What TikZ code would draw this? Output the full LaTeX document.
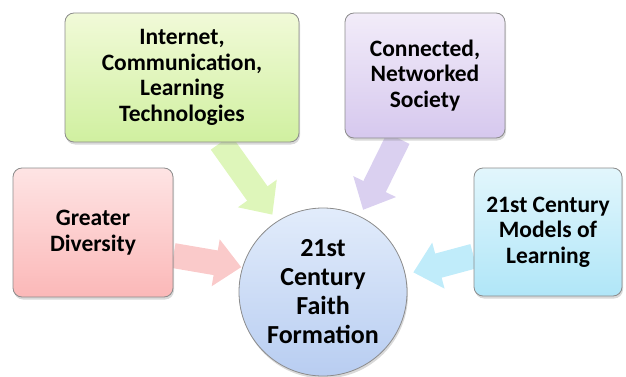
\documentclass[tikz,border=0pt]{standalone}
\usepackage{fontspec}
\setmainfont{Carlito}
\usetikzlibrary{arrows.meta,shadows,backgrounds}

\definecolor{pinktop}{RGB}{254,228,228}
\definecolor{pinkbot}{RGB}{251,184,184}
\definecolor{greentop}{RGB}{241,250,216}
\definecolor{greenbot}{RGB}{208,240,160}
\definecolor{purptop}{RGB}{242,236,249}
\definecolor{purpbot}{RGB}{214,200,238}
\definecolor{cyantop}{RGB}{226,246,252}
\definecolor{cyanbot}{RGB}{176,230,248}
\definecolor{hubtop}{RGB}{226,236,251}
\definecolor{hubbot}{RGB}{184,205,241}
\definecolor{pinkarr}{RGB}{250,202,202}
\definecolor{greenarr}{RGB}{222,246,186}
\definecolor{purparr}{RGB}{218,208,240}
\definecolor{cyanarr}{RGB}{192,236,250}

\begin{document}
\begin{tikzpicture}[x=1pt,y=-1pt,font={\fontsize{23.5}{25.5}\selectfont\bfseries},
  box/.style={draw=black!45,line width=0.8pt,rounded corners=9pt,align=center,inner sep=0pt,
    drop shadow={opacity=0.3,shadow xshift=1pt,shadow yshift=-2.5pt}},
  flow/.style={line width=25pt,-{Triangle[length=26pt,width=46pt]}}]
\useasboundingbox (0,0) rectangle (626,377);

\node[box,minimum width=160pt,minimum height=129pt,top color=pinktop,bottom color=pinkbot]
  (dv) at (93,232.5) {Greater\\Diversity};
\node[box,minimum width=234pt,minimum height=129pt,top color=greentop,bottom color=greenbot]
  (net) at (182,77.5) {Internet,\\Communication,\\Learning\\Technologies};
\node[box,minimum width=160pt,minimum height=125pt,top color=purptop,bottom color=purpbot]
  (con) at (425,75.5) {Connected,\\Networked\\Society};
\node[box,minimum width=148pt,minimum height=128pt,top color=cyantop,bottom color=cyanbot]
  (mod) at (548,232) {21st Century\\Models of\\Learning};
\node[box,circle,minimum size=168pt,top color=hubtop,bottom color=hubbot,
  font={\fontsize{26}{29}\selectfont\bfseries}] (hub) at (323,292) {21st\\Century\\Faith\\Formation};

% block arrows into the hub
\begin{scope}[on background layer]
\draw[flow,pinkarr,shorten >=1pt] (dv.-16) -- (hub.163);
\draw[flow,greenarr,shorten >=8pt] (net.-59) -- (hub.123);
\draw[flow,purparr,shorten >=7pt] (con.-113) -- (hub.64);
\draw[flow,cyanarr,shorten >=8pt] (mod.198) -- (hub.12);
\end{scope}
\end{tikzpicture}
\end{document}
